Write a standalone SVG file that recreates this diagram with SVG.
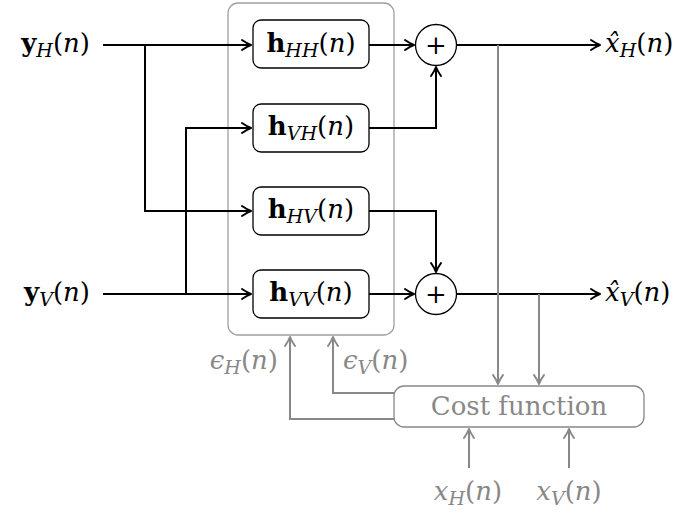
<svg xmlns="http://www.w3.org/2000/svg" width="687" height="513" viewBox="0 0 687 513">
<defs>
<style>
.t{font-family:"DejaVu Serif","Liberation Serif",serif;font-size:26px;fill:#000}
.g{fill:#888}
.i{font-style:italic}
.b{font-weight:bold}
.s{font-size:19px;font-style:italic}
.blk{fill:none;stroke:#000;stroke-width:2}
.gry{fill:none;stroke:#888;stroke-width:2}
.box{fill:#fff;stroke:#000;stroke-width:1.3}
.frame{fill:none;stroke:#a0a0a0;stroke-width:1.3}
.cost{fill:#fff;stroke:#888;stroke-width:1.3}
</style>
<marker id="ab" viewBox="-11 -7 13 14" refX="0" refY="0" markerWidth="13" markerHeight="14" markerUnits="userSpaceOnUse" orient="auto">
<path d="M-9,-5 Q-3.5,-1.2 0,0 Q-3.5,1.2 -9,5" fill="none" stroke="#000" stroke-width="2" stroke-linecap="round" stroke-linejoin="round"/>
</marker>
<marker id="ag" viewBox="-11 -7 13 14" refX="0" refY="0" markerWidth="13" markerHeight="14" markerUnits="userSpaceOnUse" orient="auto">
<path d="M-9,-5 Q-3.5,-1.2 0,0 Q-3.5,1.2 -9,5" fill="none" stroke="#888" stroke-width="2" stroke-linecap="round" stroke-linejoin="round"/>
</marker>
</defs>
<rect width="687" height="513" fill="#fff"/>
<rect id="frame" class="frame" x="228" y="3" width="166" height="332" rx="10"/>
<g id="connectors">
<g marker-end="url(#ab)">
<path class="blk" d="M103,45 H251"/>
<path class="blk" d="M145,45 V211 H251"/>
<path class="blk" d="M103,294 H251"/>
<path class="blk" d="M186,294 V128 H251"/>
<path class="blk" d="M369,45 H414"/>
<path class="blk" d="M369,128 H436 V67"/>
<path class="blk" d="M369,211 H436 V272"/>
<path class="blk" d="M369,294 H414"/>
<path class="blk" d="M457,45 H600"/>
<path class="blk" d="M457,294 H600"/>
</g>
<g marker-end="url(#ag)">
<path class="gry" d="M498,45 V384"/>
<path class="gry" d="M539,294 V384"/>
<path class="gry" d="M394,393 H333 V337"/>
<path class="gry" d="M394,419 H290 V337"/>
<path class="gry" d="M469,468 V429"/>
<path class="gry" d="M569,468 V429"/>
</g>
</g>
<g id="in-yH"><text class="t" x="90" y="52" text-anchor="end"><tspan class="b">y</tspan><tspan class="s" dy="5">H</tspan><tspan dy="-5">(</tspan><tspan class="i">n</tspan>)</text></g>
<g id="in-yV"><text class="t" x="90" y="301" text-anchor="end"><tspan class="b">y</tspan><tspan class="s" dy="5">V</tspan><tspan dy="-5">(</tspan><tspan class="i">n</tspan>)</text></g>
<g id="hHH"><rect class="box" x="253" y="20" width="116" height="48" rx="8"/><text class="t" x="311" y="52" text-anchor="middle"><tspan class="b">h</tspan><tspan class="s" dy="5">HH</tspan><tspan dy="-5">(</tspan><tspan class="i">n</tspan>)</text></g>
<g id="hVH"><rect class="box" x="253" y="104" width="116" height="48" rx="8"/><text class="t" x="311" y="135" text-anchor="middle"><tspan class="b">h</tspan><tspan class="s" dy="5">VH</tspan><tspan dy="-5">(</tspan><tspan class="i">n</tspan>)</text></g>
<g id="hHV"><rect class="box" x="253" y="187" width="116" height="48" rx="8"/><text class="t" x="311" y="218" text-anchor="middle"><tspan class="b">h</tspan><tspan class="s" dy="5">HV</tspan><tspan dy="-5">(</tspan><tspan class="i">n</tspan>)</text></g>
<g id="hVV"><rect class="box" x="253" y="270" width="116" height="48" rx="8"/><text class="t" x="311" y="301" text-anchor="middle"><tspan class="b">h</tspan><tspan class="s" dy="5">VV</tspan><tspan dy="-5">(</tspan><tspan class="i">n</tspan>)</text></g>
<g id="sumH"><circle cx="436" cy="45" r="20.5" fill="#fff" stroke="#000" stroke-width="1.3"/><text class="t" x="436" y="54" text-anchor="middle">+</text></g>
<g id="sumV"><circle cx="436" cy="294" r="20.5" fill="#fff" stroke="#000" stroke-width="1.3"/><text class="t" x="436" y="303" text-anchor="middle">+</text></g>
<g id="out-xH"><text class="t" x="605" y="52"><tspan class="i">x̂</tspan><tspan class="s" dy="5">H</tspan><tspan dy="-5">(</tspan><tspan class="i">n</tspan>)</text></g>
<g id="out-xV"><text class="t" x="605" y="301"><tspan class="i">x̂</tspan><tspan class="s" dy="5">V</tspan><tspan dy="-5">(</tspan><tspan class="i">n</tspan>)</text></g>
<g id="cost"><rect class="cost" x="394" y="386" width="250" height="41" rx="10"/><text class="t g" x="519" y="415" text-anchor="middle">Cost function</text></g>
<g id="epsH"><text class="t g" x="278" y="369" text-anchor="end"><tspan class="i">ϵ</tspan><tspan class="s" dy="5">H</tspan><tspan dy="-5">(</tspan><tspan class="i">n</tspan>)</text></g>
<g id="epsV"><text class="t g" x="343" y="369"><tspan class="i">ϵ</tspan><tspan class="s" dy="5">V</tspan><tspan dy="-5">(</tspan><tspan class="i">n</tspan>)</text></g>
<g id="xH"><text class="t g" x="468" y="500" text-anchor="middle"><tspan class="i">x</tspan><tspan class="s" dy="5">H</tspan><tspan dy="-5">(</tspan><tspan class="i">n</tspan>)</text></g>
<g id="xV"><text class="t g" x="569" y="500" text-anchor="middle"><tspan class="i">x</tspan><tspan class="s" dy="5">V</tspan><tspan dy="-5">(</tspan><tspan class="i">n</tspan>)</text></g>
</svg>
